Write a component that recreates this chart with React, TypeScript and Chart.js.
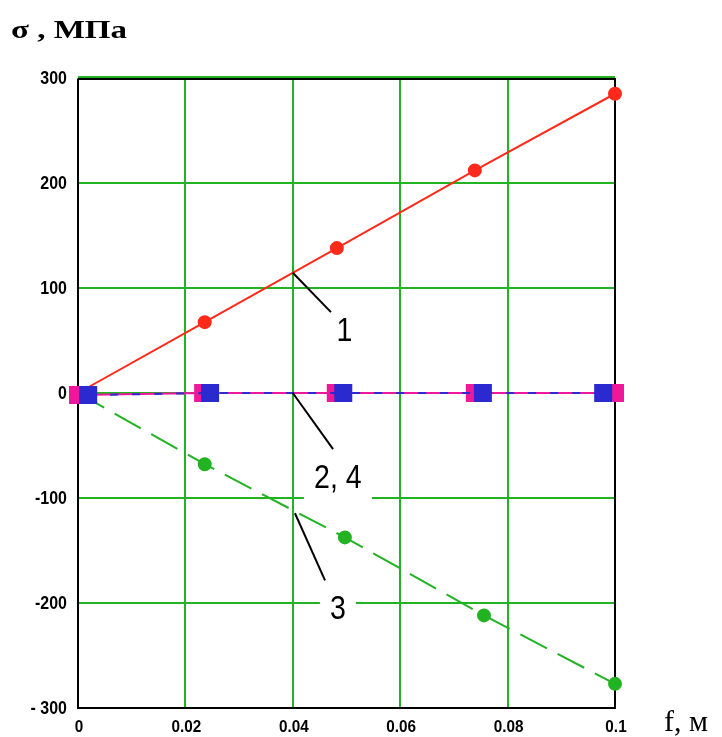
import React, { useEffect, useRef } from "react";
import { Chart, registerables } from "chart.js";

Chart.register(...registerables);

// Deflection f (m) and stress σ (MPa) at each measured point, per curve
const f1 = [0, 0.0236, 0.0482, 0.0739, 0.1];
const sigma1 = [0, 67.5, 138, 212, 285];

const f2 = [0, 0.0233, 0.048, 0.0739, 0.1];
const sigma2 = [-2, 0, 0, 0, 0];

const f3 = [0, 0.0236, 0.0497, 0.0756, 0.1];
const sigma3 = [0, -67.8, -137.5, -211.8, -277];

const f4 = [0.0019, 0.0246, 0.0494, 0.0754, 0.0978];
const sigma4 = [-2, 0, 0, 0, 0];

const yTicks = [-300, -200, -100, 0, 100, 200, 300];
const xTicks = [0, 0.02, 0.04, 0.06, 0.08, 0.1];
const yTickLabels = ["- 300", "-200", "-100", "0", "100", "200", "300"];
const xTickLabels = ["0", "0.02", "0.04", "0.06", "0.08", "0.1"];

// Curve labels with leader lines, in data units
const curveLabels = [
  { text: "1", from: [0.04, 114.5], to: [0.0471, 77], at: [0.0496, 59], box: [14, 30] },
  { text: "2, 4", from: [0.04, 0], to: [0.0475, -53.5], at: [0.0484, -80.5], box: [68, 48] },
  { text: "3", from: [0.0404, -114.5], to: [0.046, -178.5], at: [0.0484, -205], box: [36, 40] },
];

const GRID = "#22b322";
const SANS = "'Liberation Sans', Arial, sans-serif";
const SERIF = "'Liberation Serif', 'Times New Roman', serif";

const pts = (xs: number[], ys: number[]) => xs.map((x, i) => ({ x, y: ys[i] }));

// text squeezed or stretched horizontally around its anchor
function drawText(ctx: CanvasRenderingContext2D, text: string, x: number, y: number, font: string, sx: number, align: CanvasTextAlign, baseline: CanvasTextBaseline) {
  ctx.save();
  ctx.translate(x, y);
  ctx.scale(sx, 1);
  ctx.font = font;
  ctx.textAlign = align;
  ctx.textBaseline = baseline;
  ctx.fillStyle = "#000";
  ctx.fillText(text, 0, 0);
  ctx.restore();
}

const framePlugin = {
  id: "frame",
  beforeDatasetsDraw(chart: any) {
    const { ctx, chartArea: a } = chart;
    ctx.save();
    ctx.strokeStyle = "#000";
    ctx.lineWidth = 2;
    ctx.beginPath();
    ctx.moveTo(a.left, a.top + 1);
    ctx.lineTo(a.left, a.bottom);
    ctx.lineTo(a.right, a.bottom);
    ctx.lineTo(a.right, a.top + 1);
    ctx.lineTo(a.left, a.top + 1);
    ctx.stroke();
    ctx.strokeStyle = GRID;
    ctx.beginPath();
    ctx.moveTo(a.left, a.top - 1);
    ctx.lineTo(a.right, a.top - 1);
    ctx.stroke();
    ctx.restore();

    // tick labels
    const { x: xs, y: ys } = chart.scales;
    yTicks.forEach((v, i) => {
      drawText(ctx, yTickLabels[i], a.left - 11, ys.getPixelForValue(v) + 1, `bold 19px ${SANS}`, 0.84, "right", "middle");
    });
    xTicks.forEach((v, i) => {
      drawText(ctx, xTickLabels[i], xs.getPixelForValue(v) + 1, a.bottom + 24, `bold 17px ${SANS}`, 0.9, "center", "alphabetic");
    });
  },
};

const labelsPlugin = {
  id: "curveLabels",
  afterDatasetsDraw(chart: any) {
    const { ctx, scales } = chart;
    const xs = scales.x;
    const ys = scales.y;
    ctx.save();
    for (const l of curveLabels) {
      const tx = xs.getPixelForValue(l.at[0]);
      const ty = ys.getPixelForValue(l.at[1]);
      ctx.fillStyle = "#fff";
      ctx.fillRect(tx - l.box[0] / 2, ty - l.box[1] / 2, l.box[0], l.box[1]);
      ctx.strokeStyle = "#000";
      ctx.lineWidth = 2;
      ctx.beginPath();
      ctx.moveTo(xs.getPixelForValue(l.from[0]), ys.getPixelForValue(l.from[1]));
      ctx.lineTo(xs.getPixelForValue(l.to[0]), ys.getPixelForValue(l.to[1]));
      ctx.stroke();
      drawText(ctx, l.text, tx, ty + 1, `34px ${SANS}`, 0.84, "center", "middle");
    }
    ctx.restore();
    // axis titles
    drawText(ctx, "σ , МПа", 11, 38, `bold 25px ${SERIF}`, 1.32, "left", "alphabetic");
    drawText(ctx, "f, м", 664, 731, `30px ${SERIF}`, 1, "left", "alphabetic");
  },
};

export default function App() {
  const ref = useRef<HTMLCanvasElement>(null);

  useEffect(() => {
    if (!ref.current) return;
    const chart = new Chart(ref.current, {
      type: "scatter",
      data: {
        // the first dataset is painted last, on top
        datasets: [
          {
            label: "4",
            data: pts(f4, sigma4),
            showLine: true,
            borderColor: "#2a2ad0",
            backgroundColor: "#2a2ad0",
            borderWidth: 2,
            borderDash: [8, 14],
            pointRadius: 11.3,
            pointStyle: "rect",
            clip: false as any,
          },
          {
            label: "2",
            data: pts(f2, sigma2),
            showLine: true,
            borderColor: "#f0189a",
            backgroundColor: "#f0189a",
            borderWidth: 2,
            pointRadius: 11.3,
            pointStyle: "rect",
            clip: false as any,
          },
          {
            label: "1",
            data: pts(f1, sigma1),
            showLine: true,
            borderColor: "#ff2a1a",
            backgroundColor: "#ff2a1a",
            borderWidth: 2,
            pointRadius: 6,
            pointStyle: "circle",
            clip: false as any,
          },
          {
            label: "3",
            data: pts(f3, sigma3),
            showLine: true,
            borderColor: "#22b322",
            backgroundColor: "#22b322",
            borderWidth: 2,
            borderDash: [30, 12],
            pointRadius: 6,
            pointStyle: "circle",
            clip: false as any,
          },
        ],
      },
      options: {
        animation: false,
        responsive: false,
        maintainAspectRatio: false,
        layout: { padding: { top: 78, right: 107, left: 0, bottom: 0 } },
        plugins: { legend: { display: false }, tooltip: { enabled: false } },
        scales: {
          x: {
            type: "linear",
            min: 0,
            max: 0.1,
            afterFit: (s: any) => {
              s.height = 29;
            },
            afterBuildTicks: (s: any) => {
              s.ticks = xTicks.map((v) => ({ value: v }));
            },
            ticks: { display: false },
            grid: { color: GRID, lineWidth: 2, drawTicks: false },
            border: { display: false },
          },
          y: {
            type: "linear",
            min: -300,
            max: 300,
            afterFit: (s: any) => {
              s.width = 78;
            },
            afterBuildTicks: (s: any) => {
              s.ticks = yTicks.map((v) => ({ value: v }));
            },
            ticks: { display: false },
            grid: { color: GRID, lineWidth: 2, drawTicks: false },
            border: { display: false },
          },
        },
      },
      plugins: [framePlugin, labelsPlugin],
    });
    return () => chart.destroy();
  }, []);

  return (
    <div style={{ position: "fixed", left: 0, top: 0, width: 722, height: 737, background: "#fff" }}>
      <canvas ref={ref} width={722} height={737} style={{ width: 722, height: 737, display: "block" }} />
    </div>
  );
}
